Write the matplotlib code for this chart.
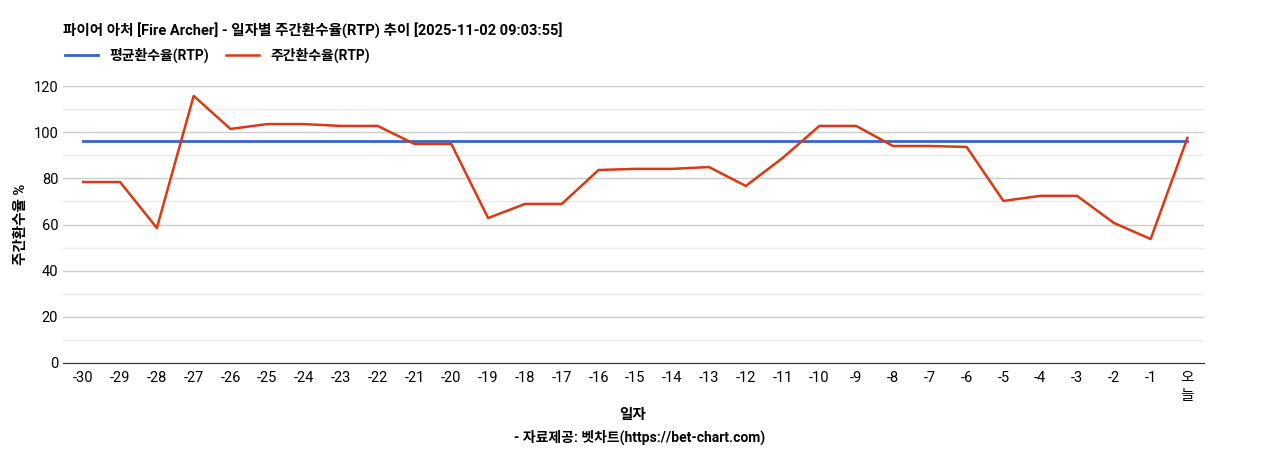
import matplotlib.pyplot as plt
from matplotlib.ticker import MultipleLocator
from matplotlib.transforms import blended_transform_factory

plt.rcParams['font.family'] = ['Roboto', 'Noto Sans CJK KR', 'DejaVu Sans']

days = [str(d) for d in range(-30, 0)] + ["오"]
weekly_rtp = [78.4, 78.4, 58.5, 115.7, 101.4, 103.5, 103.5, 102.7, 102.7, 94.9,
              94.9, 62.8, 68.9, 68.9, 83.6, 84.1, 84.1, 84.9, 76.7, 88.8,
              102.7, 102.7, 94.0, 94.0, 93.6, 70.2, 72.4, 72.4, 60.7, 53.7, 97.5]
avg_rtp = [96.2] * len(days)

fig = plt.figure(figsize=(12.68, 4.5), dpi=100)
ax = fig.add_axes([63 / 1268, 1 - 363 / 450, (1204 - 63) / 1268, (363 - 86) / 450])

x = range(len(days))
ax.plot(x, avg_rtp, color="#3366cc", linewidth=2, label="평균환수율(RTP)")
ax.plot(x, weekly_rtp, color="#dc3912", linewidth=1.8, label="주간환수율(RTP)")

ax.set_xlim(-0.55, len(days) - 0.55)
ax.set_ylim(0, 120)
ax.yaxis.set_major_locator(MultipleLocator(20))
ax.yaxis.set_minor_locator(MultipleLocator(10))
ax.grid(axis="y", which="major", color="#cccccc", linewidth=1)
ax.grid(axis="y", which="minor", color="#ebebeb", linewidth=1)
ax.set_axisbelow(True)
ax.set_xticks(list(x))
ax.set_xticklabels(days, fontsize=10.5)
ax.tick_params(axis="y", which="both", labelsize=10.5, length=0)
ax.tick_params(axis="x", length=0, pad=6)
trans = blended_transform_factory(ax.transData, fig.transFigure)
ax.text(len(days) - 1, 1 - 396 / 450, "늘", transform=trans, ha="center", va="center", fontsize=10.5)
for s in ["top", "right", "left"]:
    ax.spines[s].set_visible(False)
ax.spines["bottom"].set_color("#333333")

ax.set_ylabel("주간환수율 %", fontsize=10.5, fontweight="bold")
fig.text(633 / 1268, 1 - 415 / 450, "일자", ha="center", va="center", fontsize=10.5, fontweight="bold")
fig.text(640 / 1268, 1 - 437 / 450, "- 자료제공: 벳차트(https://bet-chart.com)", ha="center", va="center",
         fontsize=10, fontweight="bold")
fig.text(63 / 1268, 1 - 30 / 450, "파이어 아처 [Fire Archer] - 일자별 주간환수율(RTP) 추이 [2025-11-02 09:03:55]",
         ha="left", va="center", fontsize=10.5, fontweight="bold")
ax.legend(loc="center left", bbox_to_anchor=(-0.003, 1 + (86 - 55) / 277), ncol=2, frameon=False,
          handlelength=2.4, columnspacing=1.2, borderaxespad=0,
          prop={"weight": "bold", "size": 10})

fig.savefig("out.png", dpi=100)
